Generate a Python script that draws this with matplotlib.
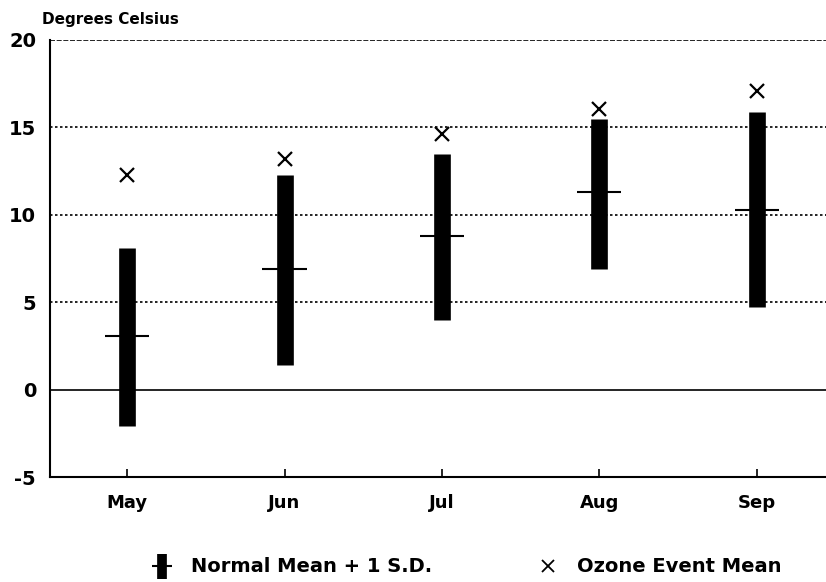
import matplotlib.pyplot as plt
from matplotlib.lines import Line2D
from matplotlib.legend_handler import HandlerTuple

plt.rcParams['font.family'] = ['DejaVu Sans']
plt.rcParams['font.weight'] = 'bold'
plt.rcParams['axes.unicode_minus'] = False

months = ['May', 'Jun', 'Jul', 'Aug', 'Sep']
normal_mean = [3.05, 6.9, 8.8, 11.3, 10.3]
sd_low = [-2.1, 1.4, 4.0, 6.9, 4.7]
sd_high = [8.1, 12.3, 13.5, 15.5, 15.9]
ozone_mean = [12.3, 13.2, 14.6, 16.05, 17.1]

fig = plt.figure(figsize=(8.26, 5.82), dpi=100)
ax = fig.add_axes([0.0605, 0.1804, 0.9395, 0.7509])

x = range(1, len(months) + 1)

# grid lines
for v in [5, 10, 15]:
    ax.axhline(v, color='black', lw=1.2, ls=(0, (1.5, 1.5)), zorder=1)
ax.axhline(0, color='black', lw=1.2, zorder=1)
ax.axhline(20, color='black', lw=1.2, ls=(0, (3, 1)), zorder=1)

# normal range bars and mean ticks
ax.vlines(x, sd_low, sd_high, color='black', lw=12, zorder=2)
ax.hlines(normal_mean, [i - 0.14 for i in x], [i + 0.14 for i in x],
          color='black', lw=1.5, zorder=3)

# ozone event means
ax.plot(x, ozone_mean, 'x', color='black', ms=10, mew=1.6, ls='none', zorder=4)

ax.set_xlim(0.51, 5.44)
ax.set_ylim(-5, 20)
ax.set_yticks([-5, 0, 5, 10, 15, 20])
ax.set_xticks(list(x))
ax.set_xticklabels(months)
ax.tick_params(axis='y', length=0, labelsize=14, pad=10)
ax.tick_params(axis='x', direction='in', length=6, width=1.2, labelsize=13, pad=12)
for lbl in ax.get_yticklabels() + ax.get_xticklabels():
    lbl.set_fontweight('bold')

for s in ['top', 'right']:
    ax.spines[s].set_visible(False)
ax.spines['left'].set_linewidth(1.5)
ax.spines['bottom'].set_linewidth(1.5)

fig.text(0.051, 0.958, 'Degrees Celsius', fontsize=11, fontweight='bold')

bar_handle = (Line2D([], [], color='black', marker='|', ms=18, mew=7, ls='none'),
              Line2D([], [], color='black', marker='_', ms=14, mew=1.5, ls='none'))
x_handle = Line2D([], [], color='black', marker='x', ms=8, mew=1.3, ls='none')
fig.legend([bar_handle, x_handle], ['Normal Mean + 1 S.D.', 'Ozone Event Mean'],
           handler_map={tuple: HandlerTuple(ndivide=1)},
           loc='center', bbox_to_anchor=(0.562, 0.026), ncol=2, frameon=False,
           fontsize=14, columnspacing=5.2, handlelength=1.5, handletextpad=0.75)

fig.savefig('out.png', dpi=100)
